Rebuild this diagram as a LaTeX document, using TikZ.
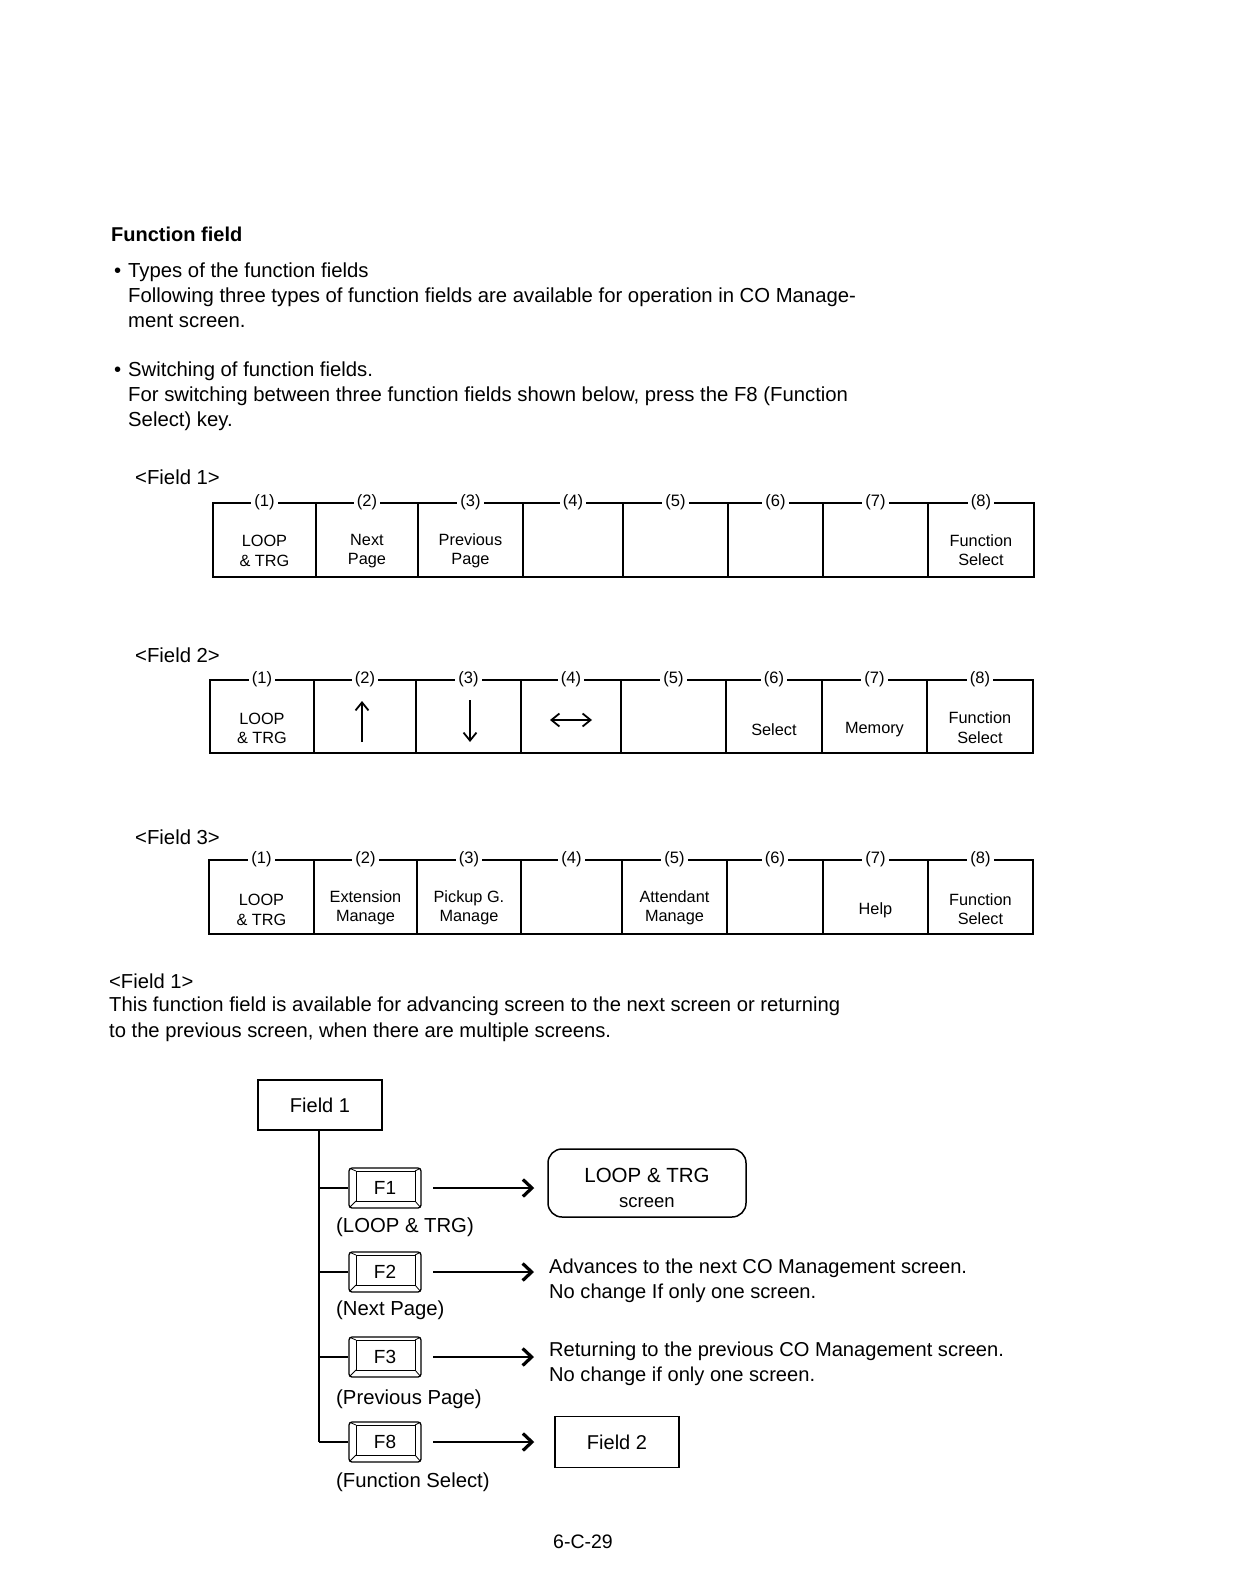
\documentclass[tikz,border=0pt]{standalone}
\usepackage{fontspec}
\setmainfont{Liberation Sans}
\usetikzlibrary{arrows.meta}
\tikzset{
  celltip/.tip={Straight Barb[length=8pt,width=13pt,line width=1.8pt]},
  flowtip/.tip={Straight Barb[length=9pt,width=17pt,line width=3.2pt]},
  body/.style={anchor=base west, inner sep=0pt, font=\fontsize{20.3}{24}\selectfont},
  cell/.style={draw, line width=1.9pt, anchor=north west, inner sep=0pt},
  celltext/.style={align=center, inner sep=0pt, font=\fontsize{16.3}{19.5}\selectfont},
  numlabel/.style={fill=white, inner xsep=3pt, inner ysep=1pt, font=\fontsize{16.5}{19}\selectfont},
  fieldhead/.style={anchor=base west, inner sep=0pt, font=\fontsize{20.3}{24}\selectfont},
  cellarrow/.style={line width=1.8pt, -{celltip}},
  box/.style={draw, line width=1.5pt, inner sep=0pt, font=\fontsize{20}{24}\selectfont},
  keycap/.style={draw, line width=1.3pt, rounded corners=3pt, minimum width=72pt, minimum height=40pt, inner sep=0pt,
    font=\fontsize{19}{22}\selectfont,
    path picture={
      \coordinate (kNW) at (path picture bounding box.north west);
      \coordinate (kSE) at (path picture bounding box.south east);
      \coordinate (kNE) at (path picture bounding box.north east);
      \coordinate (kSW) at (path picture bounding box.south west);
      \draw[line width=1pt, sharp corners] ([shift={(7pt,-3pt)}]kNW) rectangle ([shift={(-6pt,7pt)}]kSE);
      \draw[line width=0.8pt, sharp corners] (kNW) -- ([shift={(7pt,-3pt)}]kNW)
        (kNE) -- ([shift={(-6pt,-3pt)}]kNE)
        (kSW) -- ([shift={(7pt,7pt)}]kSW)
        (kSE) -- ([shift={(-6pt,7pt)}]kSE);
    }},
  keylabel/.style={anchor=base west, inner sep=0pt, font=\fontsize{20.3}{24}\selectfont},
  branch/.style={line width=2.2pt},
  flow/.style={line width=2pt, -{flowtip}},
  desc/.style={anchor=base west, inner sep=0pt, align=left, font=\fontsize{20.1}{25}\selectfont},
}
\begin{document}
\begin{tikzpicture}[x=1pt,y=-1pt]
\useasboundingbox[fill=white] (0,0) rectangle (1232,1594);

% ---------- header text ----------
\node[body, font=\bfseries\fontsize{20}{24}\selectfont] (title) at (111,242) {Function field};
\node[body] (b1) at (114,278) {•};
\node[body] (t1) at (128,278) {Types of the function fields};
\node[body] (t2) at (128,303) {Following three types of function fields are available for operation in CO Manage-};
\node[body] (t3) at (128,327) {ment screen.};
\node[body] (b2) at (114,376) {•};
\node[body] (t4) at (128,376) {Switching of function fields.};
\node[body] (t5) at (128,401) {For switching between three function fields shown below, press the F8 (Function};
\node[body] (t6) at (128,426) {Select) key.};

% ---------- Field 1 table ----------
\node[fieldhead] (h1) at (135,484) {<Field 1>};
\foreach \i/\a/\b in {1/212/315,2/315/417,3/417/522,4/522/622,5/622/727,6/727/822,7/822/927,8/927/1033}{
  \node[cell, minimum width={\b-\a}, minimum height=74] (fa\i) at (\a,502) {};
}
\foreach \i in {1,...,8}{ \node[numlabel] (na\i) at (fa\i.north) {(\i)}; }
\node[celltext] (fa1t) at ([yshift=-11pt]fa1.center) {LOOP\\\& TRG};
\node[celltext] (fa2t) at ([yshift=-11pt]fa2.center) {Next\\Page};
\node[celltext] (fa3t) at ([yshift=-11pt]fa3.center) {Previous\\Page};
\node[celltext] (fa8t) at ([yshift=-10pt]fa8.center) {Function\\Select};

% ---------- Field 2 table ----------
\node[fieldhead] (h2) at (135,662) {<Field 2>};
\foreach \i/\a/\b in {1/209/313,2/313/415,3/415/520,4/520/620,5/620/725,6/725/821,7/821/926,8/926/1032}{
  \node[cell, minimum width={\b-\a}, minimum height=73] (fb\i) at (\a,679) {};
}
\foreach \i in {1,...,8}{ \node[numlabel] (nb\i) at (fb\i.north) {(\i)}; }
\node[celltext] (fb1t) at ([yshift=-12pt]fb1.center) {LOOP\\\& TRG};
\coordinate (up1) at (362,742);   \coordinate (up2) at (362,701);
\draw[cellarrow] (up1) -- (up2);
\coordinate (dn1) at (470,700);   \coordinate (dn2) at (470,742);
\draw[cellarrow] (dn1) -- (dn2);
\coordinate (lr1) at (550,720);   \coordinate (lr2) at (592,720);
\draw[line width=1.8pt, {celltip}-{celltip}] (lr1) -- (lr2);
\node[celltext] (fb6t) at ([yshift=-13pt]fb6.center) {Select};
\node[celltext] (fb7t) at ([yshift=-13pt]fb7.center) {Memory};
\node[celltext] (fb8t) at ([yshift=-11pt]fb8.center) {Function\\Select};

% ---------- Field 3 table ----------
\node[fieldhead] (h3) at (135,844) {<Field 3>};
\foreach \i/\a/\b in {1/208/313,2/313/416,3/416/520,4/520/621,5/621/726,6/726/822,7/822/927,8/927/1032}{
  \node[cell, minimum width={\b-\a}, minimum height=74] (fc\i) at (\a,859) {};
}
\foreach \i in {1,...,8}{ \node[numlabel] (nc\i) at (fc\i.north) {(\i)}; }
\node[celltext] (fc1t) at ([yshift=-13pt]fc1.center) {LOOP\\\& TRG};
\node[celltext] (fc2t) at ([yshift=-11pt]fc2.center) {Extension\\Manage};
\node[celltext] (fc3t) at ([yshift=-11pt]fc3.center) {Pickup G.\\Manage};
\node[celltext] (fc5t) at ([yshift=-11pt]fc5.center) {Attendant\\Manage};
\node[celltext] (fc7t) at ([yshift=-13pt]fc7.center) {Help};
\node[celltext] (fc8t) at ([yshift=-12pt]fc8.center) {Function\\Select};

% ---------- lower explanation ----------
\node[body, font=\fontsize{20.2}{24}\selectfont] (l1) at (109,988) {<Field 1>};
\node[body, font=\fontsize{20.2}{24}\selectfont] (l2) at (109,1011) {This function field is available for advancing screen to the next screen or returning};
\node[body, font=\fontsize{20.2}{24}\selectfont] (l3) at (109,1037) {to the previous screen, when there are multiple screens.};

% ---------- flow diagram ----------
\node[box, minimum width=124, minimum height=50] (field1) at (320,1105) {Field 1};
\coordinate (trunk) at (319,1130);
\coordinate (j1) at (319,1188);
\coordinate (j2) at (319,1272);
\coordinate (j3) at (319,1357);
\coordinate (j8) at (319,1442);
\draw[branch] (trunk) -- (j8);

\node[keycap] (k1) at (385,1188) {F1};
\node[keycap] (k2) at (385,1272) {F2};
\node[keycap] (k3) at (385,1357) {F3};
\node[keycap] (k8) at (385,1442) {F8};
\draw[branch] (j1) -- (k1.west);
\draw[branch] (j2) -- (k2.west);
\draw[branch] (j3) -- (k3.west);
\draw[branch] (j8) -- (k8.west);

\node[keylabel] (k1l) at (336,1232) {(LOOP \& TRG)};
\node[keylabel] (k2l) at (336,1315) {(Next Page)};
\node[keylabel] (k3l) at (336,1404) {(Previous Page)};
\node[keylabel] (k8l) at (336,1487) {(Function Select)};

\node[draw, line width=1.5pt, rounded corners=14pt, minimum width=198, minimum height=68, inner sep=0pt] (loopscr) at (647,1183) {};
\node[align=center, inner sep=0pt, font=\fontsize{20.5}{25}\selectfont] (loopscrt) at ([yshift=-5pt]loopscr.center)
  {LOOP \& TRG\\{\fontsize{18.5}{22}\selectfont screen}};
\node[desc] (d2) at (549,1298) {Advances to the next CO Management screen.\\No change If only one screen.};
\node[desc] (d3) at (549,1381) {Returning to the previous CO Management screen.\\No change if only one screen.};
\node[box, minimum width=124, minimum height=51] (field2) at (617,1442) {Field 2};

\coordinate (a1) at (433,1188);
\coordinate (a2) at (433,1272);
\coordinate (a3) at (433,1357);
\coordinate (a8) at (433,1442);
\coordinate (e2) at (534,1272);
\coordinate (e3) at (534,1357);
\draw[flow] (a1) -- ([xshift=-13pt]a1 -| loopscr.west);
\draw[flow] (a2) -- (e2);
\draw[flow] (a3) -- (e3);
\draw[flow] (a8) -- ([xshift=-20pt]a8 -| field2.west);

% ---------- page number ----------
\node[body, font=\fontsize{19.5}{24}\selectfont, anchor=base] (pg) at (583,1548) {6-C-29};
\end{tikzpicture}
\end{document}
